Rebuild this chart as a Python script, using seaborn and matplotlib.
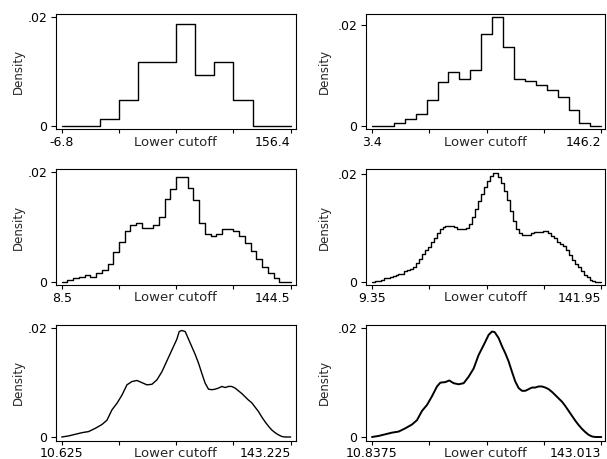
import numpy as np
import matplotlib
matplotlib.use("Agg")
import matplotlib.pyplot as plt
import seaborn as sns

# ---------------- data ----------------
# panel 1: 12 bins from -6.8 to 156.4 (step plot)
p1_range = (-6.8, 156.4)
p1_vals = [0, 0, 0.0012, 0.0048, 0.0117, 0.0117, 0.0187, 0.0093, 0.0117, 0.0048, 0, 0]

# panel 2: 21 bins from 3.4 to 146.2
p2_range = (3.4, 146.2)
p2_vals = [0, 0, 0.0006, 0.0013, 0.0023, 0.0052, 0.0088, 0.0106, 0.0094, 0.0111,
           0.0182, 0.0216, 0.0157, 0.0093, 0.0089, 0.0082, 0.0071, 0.0058, 0.0031,
           0.0005, 0]

# panel 3: 40 bins from 8.5 to 144.5
p3_range = (8.5, 144.5)
p3_vals = [0, 0.0003, 0.0006, 0.0009, 0.0012, 0.0009, 0.0015, 0.0021, 0.0032, 0.0055,
           0.0072, 0.0093, 0.0104, 0.0107, 0.0099, 0.0099, 0.0104, 0.0119, 0.0151, 0.0169,
           0.0191, 0.0191, 0.0171, 0.0149, 0.0107, 0.0087, 0.0083, 0.0087, 0.0096, 0.0096,
           0.0093, 0.0084, 0.0070, 0.0057, 0.0041, 0.0026, 0.0015, 0.0007, 0, 0]

# panel 4: 78 bins from 9.35 to 141.95
p4_range = (9.35, 141.95)
p4_vals = [0, 0.0001, 0.0002, 0.0004, 0.0006, 0.0007, 0.0009, 0.0011, 0.0012, 0.0014,
           0.0015, 0.0019, 0.0021, 0.0024, 0.0028, 0.0035, 0.0042, 0.0051, 0.0058, 0.0065,
           0.0074, 0.0082, 0.0091, 0.0098, 0.0102, 0.0103, 0.0104, 0.0103, 0.0101, 0.0098,
           0.0097, 0.0097, 0.0099, 0.0108, 0.0121, 0.0135, 0.0149, 0.0162, 0.0175, 0.0187,
           0.0196, 0.0201, 0.0201, 0.0194, 0.0183, 0.0168, 0.0152, 0.0132, 0.0113, 0.0098,
           0.0090, 0.0087, 0.0087, 0.0087, 0.0090, 0.0092, 0.0093, 0.0093, 0.0095, 0.0094,
           0.0090, 0.0085, 0.0081, 0.0074, 0.0070, 0.0066, 0.0058, 0.0049, 0.0041, 0.0033,
           0.0027, 0.0019, 0.0013, 0.0008, 0.0004, 0.0001, 0, 0]

# panel 5: density curve read at points
p5_range = (10.625, 143.225)
p5_x = [10.625, 14.67, 18.53, 22.38, 26.24, 30.09, 33.95, 36.84, 39.73, 42.62,
        45.51, 48.40, 51.29, 54.18, 57.07, 59.96, 62.85, 65.74, 68.64, 71.53,
        74.42, 77.31, 78.66, 80.20, 82.13, 84.06, 85.98, 87.91, 89.84, 91.77,
        93.69, 95.62, 97.55, 99.47, 101.40, 103.33, 105.26, 107.18, 109.11, 111.04,
        112.96, 114.89, 116.82, 118.75, 120.67, 122.60, 124.53, 126.45, 128.38, 130.31,
        132.24, 134.16, 136.09, 138.02, 139.94, 143.225]
p5_y = [0, 0.0002, 0.0005, 0.0008, 0.0010, 0.0016, 0.0023, 0.0031, 0.0050, 0.0062,
        0.0077, 0.0096, 0.0102, 0.0104, 0.0100, 0.0096, 0.0097, 0.0105, 0.0120, 0.0140,
        0.0160, 0.0180, 0.0194, 0.0196, 0.0194, 0.0180, 0.0166, 0.0152, 0.0136, 0.0117,
        0.0099, 0.0088, 0.0087, 0.0088, 0.0090, 0.0093, 0.0091, 0.0093, 0.0093, 0.0090,
        0.0085, 0.0080, 0.0074, 0.0068, 0.0063, 0.0055, 0.0047, 0.0037, 0.0028, 0.0020,
        0.0013, 0.0008, 0.0004, 0.0001, 0, 0]

# panel 6: density curve read at points
p6_range = (10.8375, 143.0125)
p6_x = [10.84, 14.68, 18.52, 22.36, 26.21, 30.05, 33.89, 36.77, 39.66, 42.54,
        45.42, 48.30, 50.22, 53.10, 55.41, 57.90, 60.79, 63.67, 66.55, 69.43,
        72.31, 75.19, 78.08, 80.00, 81.53, 83.84, 85.76, 87.68, 89.60, 91.52,
        93.44, 95.37, 97.29, 99.21, 101.13, 103.05, 104.97, 106.89, 108.81, 110.74,
        112.66, 114.58, 116.50, 118.42, 120.34, 122.26, 124.18, 126.10, 128.03, 129.95,
        131.87, 133.79, 135.71, 137.63, 139.55, 143.01]
p6_y = [0, 0.0002, 0.0005, 0.0008, 0.0010, 0.0016, 0.0023, 0.0031, 0.0048, 0.0059,
        0.0075, 0.0093, 0.0100, 0.0101, 0.0104, 0.0099, 0.0097, 0.0099, 0.0111, 0.0126,
        0.0151, 0.0169, 0.0188, 0.0194, 0.0193, 0.0182, 0.0167, 0.0154, 0.0139, 0.0120,
        0.0102, 0.0090, 0.0085, 0.0085, 0.0088, 0.0091, 0.0091, 0.0093, 0.0093, 0.0091,
        0.0088, 0.0083, 0.0077, 0.0071, 0.0065, 0.0057, 0.0048, 0.0039, 0.0030, 0.0022,
        0.0015, 0.0009, 0.0004, 0.0001, 0, 0]

x_tick_labels = [("-6.8", "156.4"), ("3.4", "146.2"), ("8.5", "144.5"),
                 ("9.35", "141.95"), ("10.625", "143.225"), ("10.8375", "143.013")]
y_ticks = [0, 0.02]
y_tick_labels = ["0", ".02"]
x_title = "Lower cutoff"
y_title = "Density"

# ---------------- style ----------------
sns.set_theme(style="ticks")
plt.rcParams["font.family"] = ["DejaVu Sans"]
plt.rcParams["axes.edgecolor"] = "black"
plt.rcParams["axes.linewidth"] = 0.8
plt.rcParams["xtick.color"] = "black"
plt.rcParams["ytick.color"] = "black"

W, H = 607, 459
fig = plt.figure(figsize=(W / 100, H / 100), dpi=100)
fig.patch.set_facecolor("white")

# frame pixel boxes: (left, right, top, bottom), data-end pixels, y pixel of 0 and .02
cols = [dict(L=55.5, R=296.0, x0=61.7, x1=290.7, ylab=-0.156),
        dict(L=365.7, R=605.0, x0=372.0, x1=601.3, ylab=-0.171)]
rows = [dict(T=14.0, B=129.3), dict(T=169.3, B=285.0), dict(T=325.0, B=440.7)]
y_px = [(125.7, 16.7), (125.7, 25.3), (281.7, 172.3), (281.7, 174.0), (437.0, 328.3), (437.0, 328.3)]
line_w = [1.0, 1.0, 1.0, 1.0, 1.0, 1.4]

panels = [
    ("step", p1_range, p1_vals),
    ("step", p2_range, p2_vals),
    ("step", p3_range, p3_vals),
    ("step", p4_range, p4_vals),
    ("line", p5_range, (p5_x, p5_y)),
    ("line", p6_range, (p6_x, p6_y)),
]

for i, (kind, (lo, hi), dat) in enumerate(panels):
    c = cols[i % 2]
    r = rows[i // 2]
    ax = fig.add_axes([c["L"] / W, 1 - r["B"] / H, (c["R"] - c["L"]) / W, (r["B"] - r["T"]) / H])
    ax.set_facecolor("white")

    if kind == "step":
        vals = np.asarray(dat, dtype=float)
        edges = np.linspace(lo, hi, len(vals) + 1)
        yy = np.append(vals, vals[-1])
        sns.lineplot(x=edges, y=yy, drawstyle="steps-post", color="black",
                     linewidth=line_w[i], estimator=None, ax=ax)
    else:
        xs, ys = dat
        sns.lineplot(x=xs, y=ys, color="black", linewidth=line_w[i], estimator=None, ax=ax)

    # x limits from pixel mapping
    span = c["x1"] - c["x0"]
    rng = hi - lo
    ax.set_xlim(lo - (c["x0"] - c["L"]) / span * rng, hi + (c["R"] - c["x1"]) / span * rng)
    # y limits from pixel mapping
    p0, p2 = y_px[i]
    s = 0.02 / (p0 - p2)
    ax.set_ylim(-(r["B"] - p0) * s, 0.02 + (p2 - r["T"]) * s)

    for sp in ax.spines.values():
        sp.set_visible(True)
        sp.set_color("black")
        sp.set_linewidth(0.8)

    ticks = np.linspace(lo, hi, 5)
    ax.set_xticks(ticks)
    la, lb = x_tick_labels[i]
    ax.set_xticklabels([la, "", "", "", lb], fontsize=9)
    tl = ax.get_xticklabels()
    tl[0].set_ha("center")
    tl[-1].set_ha("right")
    ax.tick_params(axis="x", direction="out", length=3.2, width=0.8, pad=1.5)

    ax.set_yticks(y_ticks)
    ax.set_yticklabels(y_tick_labels, fontsize=9)
    ax.tick_params(axis="y", direction="out", length=3.6, width=0.8, pad=2.5)

    ax.set_xlabel(x_title, fontsize=9.5)
    ax.xaxis.set_label_coords(0.5, -0.055)
    ax.xaxis.label.set_va("top")
    ax.set_ylabel(y_title, fontsize=8.5)
    ax.yaxis.set_label_coords(c["ylab"], 0.5)
    ax.yaxis.label.set_va("center")
    ax.grid(False)

fig.savefig("out.png", dpi=100, facecolor="white")
